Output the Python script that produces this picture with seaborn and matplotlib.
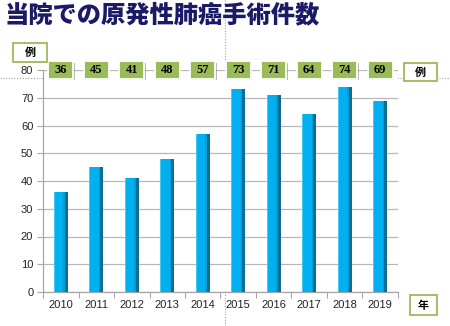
import matplotlib
matplotlib.use("Agg")
import matplotlib.pyplot as plt
import matplotlib.patheffects as pe
from matplotlib.patches import Rectangle
from matplotlib.lines import Line2D
import seaborn as sns
import pandas as pd

years = ["2010", "2011", "2012", "2013", "2014", "2015", "2016", "2017", "2018", "2019"]
counts = [36, 45, 41, 48, 57, 73, 71, 64, 74, 69]
title = "当院での原発性肺癌手術件数"
y_unit = "例"
x_unit = "年"
y_ticks = [0, 10, 20, 30, 40, 50, 60, 70, 80]

sns.set_theme(style="white")
plt.rcParams["font.family"] = ["Liberation Sans", "Noto Sans CJK JP", "DejaVu Sans"]

df = pd.DataFrame({"year": years, "count": counts})

fig = plt.figure(figsize=(4.5, 3.26), dpi=100)
W, H = 450, 326
ax = fig.add_axes([43 / W, (H - 292) / H, (398 - 43) / W, (292 - 70) / H])

sns.barplot(data=df, x="year", y="count", color="#00B0F0", width=0.4,
            saturation=1, ax=ax, zorder=3, linewidth=0, edgecolor="none")

# darker right-side shading on each bar
for p in list(ax.patches):
    x0, w, h = p.get_x(), p.get_width(), p.get_height()
    ax.add_patch(Rectangle((x0 + w * 0.66, 0), w * 0.12, h, fc="#049CD4",
                           ec="none", lw=0, zorder=4))
    ax.add_patch(Rectangle((x0 + w * 0.78, 0), w * 0.22, h, fc="#0B6E93",
                           ec="none", lw=0, zorder=4))
    ax.add_patch(Rectangle((x0, 0), w * 0.07, h, fc="#4CC8F4",
                           ec="none", lw=0, zorder=4))

ax.set_ylim(0, 80)
ax.set_xlim(-0.5, len(years) - 0.5)
ax.set_yticks(y_ticks)
ax.yaxis.grid(True, color="#B8B8B8", lw=0.9, zorder=0)
ax.set_axisbelow(True)
ax.set_xlabel("")
ax.set_ylabel("")
for s in ["top", "right"]:
    ax.spines[s].set_visible(False)
for s in ["left", "bottom"]:
    ax.spines[s].set_color("#A6A6A6")
    ax.spines[s].set_linewidth(0.9)

ax.tick_params(axis="y", which="major", length=4, width=0.8, color="#A6A6A6",
               labelsize=8, labelcolor="#222222", pad=3, left=True, direction="out")
ax.tick_params(axis="x", which="major", length=0, labelsize=8,
               labelcolor="#222222", pad=6)
ax.set_xticks(range(len(years)))
ax.set_xticklabels(years)
ax.set_xticks([i + 0.5 for i in range(-1, len(years))], minor=True)
ax.tick_params(axis="x", which="minor", length=4, width=0.8, color="#A6A6A6",
               bottom=True, direction="out")

# value boxes along the top
bw, bh = 0.70, 6.2
shadow = [pe.SimplePatchShadow(offset=(1.3, -1.3), shadow_rgbFace="#666666", alpha=0.45),
          pe.Normal()]
for i, v in enumerate(counts):
    r = Rectangle((i - bw / 2, 80 - bh / 2), bw, bh, fc="#9BBB59", ec="white",
                  lw=1.3, clip_on=False, zorder=6)
    r.set_path_effects(shadow)
    ax.add_patch(r)
    ax.text(i, 80, str(v), ha="center", va="center", fontsize=9,
            fontweight="bold", family="Liberation Serif", color="black",
            clip_on=False, zorder=7)

# title
fig.text(5 / W, 1 - 15 / H, title, ha="left", va="center", fontsize=17.5,
         fontweight="heavy", color="#1A1A66", family=["Noto Sans CJK JP", "DejaVu Sans"])


def unit_box(x0, y0, x1, y1, label):
    rect = Rectangle((x0 / W, 1 - y1 / H), (x1 - x0) / W, (y1 - y0) / H,
                     transform=fig.transFigure, fc="white", ec="#9BBB59", lw=1.3,
                     zorder=5)
    fig.add_artist(rect)
    fig.text((x0 + x1) / 2 / W, 1 - (y0 + y1) / 2 / H, label, ha="center",
             va="center", fontsize=8, fontweight="bold",
             family=["Noto Sans CJK JP"], color="black", zorder=6)


unit_box(13, 43, 47, 62, y_unit)
unit_box(404, 63, 437, 81, y_unit)
unit_box(410, 295, 437, 315, x_unit)

# guide dotted lines
fig.add_artist(Line2D([225 / W, 225 / W], [0, 1], color="#A0A0A0", lw=0.8,
                      ls=(0, (1, 1.5)), zorder=0))
fig.add_artist(Line2D([0, 1], [1 - 77.5 / H, 1 - 77.5 / H], color="#A0A0A0", lw=0.8,
                      ls=(0, (1, 1.5)), zorder=0))

fig.savefig("out.png", dpi=100)
